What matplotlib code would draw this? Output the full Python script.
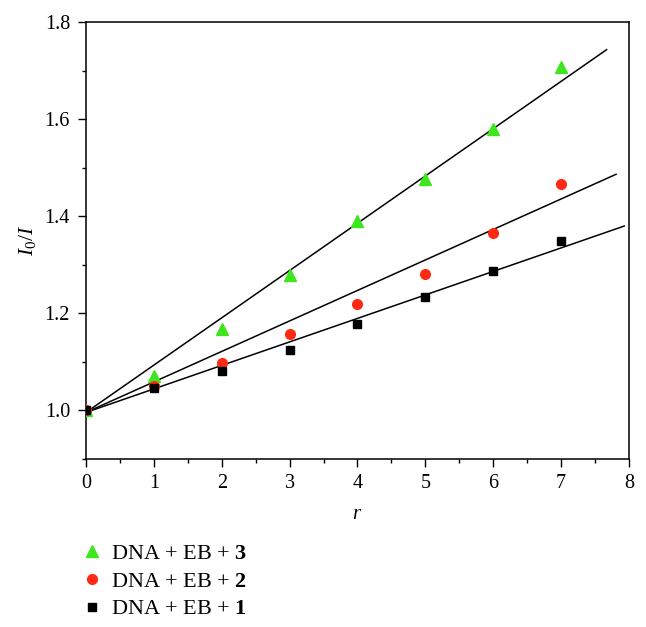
from matplotlib import pyplot as plt
import matplotlib.ticker as tck
import numpy as np

plt.rcParams['font.family'] = ['Liberation Serif', 'DejaVu Serif']
plt.rcParams['mathtext.fontset'] = 'custom'
plt.rcParams['mathtext.rm'] = 'Liberation Serif'
plt.rcParams['mathtext.it'] = 'Liberation Serif:italic'
plt.rcParams['mathtext.bf'] = 'Liberation Serif:bold'

# data
r = np.arange(0, 8)
eb3 = [1.000, 1.072, 1.167, 1.280, 1.390, 1.476, 1.579, 1.708]
eb2 = [1.000, 1.050, 1.098, 1.157, 1.219, 1.282, 1.365, 1.466]
eb1 = [1.000, 1.046, 1.082, 1.124, 1.178, 1.234, 1.288, 1.350]

# fitted lines: intercept, slope, end of line
fit3 = (0.996, 0.0974, 7.67)
fit2 = (0.996, 0.0628, 7.81)
fit1 = (0.996, 0.0484, 7.93)

green = '#3ee620'
red = '#ff2a14'

fig = plt.figure(figsize=(6.46, 6.27), dpi=100)
ax = fig.add_axes([0.1331, 0.2679, 0.8406, 0.697])

for b, k, xe in (fit3, fit2, fit1):
    xl = np.array([0, xe])
    ax.plot(xl, b + k * xl, '-', color='black', linewidth=1.1, zorder=2)

ax.plot(r, eb3, '^', color=green, markersize=9, linestyle='none', label=r'DNA + EB + $\mathbf{3}$', zorder=3)
ax.plot(r, eb2, 'o', color=red, markersize=7, linestyle='none', label=r'DNA + EB + $\mathbf{2}$', zorder=3)
ax.plot(r, eb1, 's', color='black', markersize=6, linestyle='none', label=r'DNA + EB + $\mathbf{1}$', zorder=3)

ax.set_xlim(0, 8)
ax.set_ylim(0.9, 1.8)
ax.xaxis.set_major_locator(tck.MultipleLocator(1))
ax.xaxis.set_minor_locator(tck.MultipleLocator(0.5))
ax.yaxis.set_major_locator(tck.MultipleLocator(0.2))
ax.yaxis.set_minor_locator(tck.MultipleLocator(0.1))
ax.yaxis.set_major_formatter(tck.FormatStrFormatter('%.1f'))
ax.tick_params(which='major', direction='out', length=5.5, width=1.0, labelsize=14.5)
ax.tick_params(which='minor', direction='out', length=3, width=1.0)
ax.tick_params(axis='x', which='major', pad=5)
ax.tick_params(axis='y', which='major', pad=6)
for s in ax.spines.values():
    s.set_linewidth(1.1)

ax.set_xlabel(r'$r$', fontsize=15, labelpad=9)
ax.set_ylabel(r'$I_0/I$', fontsize=15.5, labelpad=5)

fig.legend(loc='upper left', bbox_to_anchor=(0.114, 0.148), frameon=False,
           fontsize=16, handlelength=0.85, handletextpad=0.45, labelspacing=0.33,
           borderaxespad=0)

fig.savefig('out.png', dpi=100)
